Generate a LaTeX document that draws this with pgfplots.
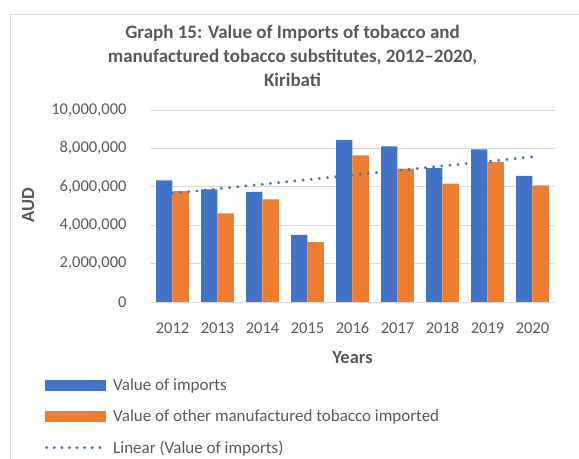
\documentclass[border=0pt]{standalone}
\usepackage{fontspec}
\setmainfont{Carlito}
\usepackage{pgfplots}
\pgfplotsset{compat=1.18}

\definecolor{xlblue}{RGB}{68,114,196}
\definecolor{xlorange}{RGB}{237,125,49}
\definecolor{xlgrid}{RGB}{217,217,217}
\definecolor{xltext}{RGB}{89,89,89}

\begin{document}
\begin{tikzpicture}
\useasboundingbox (0,0) rectangle (579bp,459bp);
% chart frame, cropped at right and bottom
\draw[xlgrid, line width=1bp] (10bp,0) -- (10bp,444bp) -- (579bp,444bp);

\begin{axis}[
    at={(150bp,157bp)}, anchor=south west,
    scale only axis,
    width=405bp, height=192bp,
    xmin=-0.5, xmax=8.5,
    ymin=0, ymax=10000000,
    ytick={0,2000000,4000000,6000000,8000000,10000000},
    xtick={0,...,8},
    xticklabels={2012,2013,2014,2015,2016,2017,2018,2019,2020},
    scaled y ticks=false,
    /pgf/number format/.cd, fixed, 1000 sep={,}, assume math mode=true,
    /pgfplots/.cd,
    axis line style={draw=none},
    major tick length=0pt,
    ymajorgrids,
    grid style={xlgrid, line width=0.9bp},
    tick label style={font=\fontsize{16.5bp}{19bp}\selectfont, text=xltext},
    yticklabel style={xshift=-20bp},
    xticklabel style={anchor=base, yshift=-31bp},
    xlabel={Years},
    ylabel={AUD},
    label style={font=\fontsize{18.5bp}{22bp}\selectfont\bfseries, text=xltext},
    xlabel style={at={(axis description cs:0.5,-0.29)}, anchor=center},
    ylabel style={at={(axis description cs:-0.301,0.505)}, anchor=center},
    title={Graph 15: Value of Imports of tobacco and\\manufactured tobacco substitutes, 2012--2020,\\Kiribati},
    title style={at={(axis description cs:0.352,1.25)}, anchor=center, align=center,
        font=\fontsize{19bp}{24bp}\selectfont\bfseries, text=xltext},
    legend style={at={(axis description cs:-0.267,-0.38)}, anchor=north west,
        draw=none, fill=none, font=\fontsize{17bp}{20bp}\selectfont, text=xltext,
        row sep=13.5bp,
        /tikz/every odd column/.append style={column sep=3.5bp}},
    legend cell align=left,
]
\addplot[ybar, bar width=16.3bp, bar shift=-8.15bp, fill=xlblue, draw=none,
    legend image code/.code={\fill[xlblue] (0bp,-5.5bp) rectangle (61bp,5.5bp);}]
coordinates {
(0,6340000) (1,5860000) (2,5740000) (3,3500000) (4,8440000)
(5,8110000) (6,6970000) (7,7950000) (8,6570000)
};
\addlegendentry{Value of imports}

\addplot[ybar, bar width=16.3bp, bar shift=8.15bp, fill=xlorange, draw=none,
    legend image code/.code={\fill[xlorange] (0bp,-5.5bp) rectangle (61bp,5.5bp);}]
coordinates {
(0,5770000) (1,4610000) (2,5340000) (3,3120000) (4,7640000)
(5,6950000) (6,6170000) (7,7300000) (8,6080000)
};
\addlegendentry{Value of other manufactured tobacco imported}

\addplot[sharp plot, xlblue, line width=3.2bp, line cap=round,
    dash pattern=on 0pt off 8.2bp,
    legend image code/.code={\draw[xlblue, line width=3.2bp, line cap=round,
        dash pattern=on 0pt off 7.6bp] (1.5bp,0) -- (61bp,0);}]
coordinates {
(0,5658000) (8,7560000)
};
\addlegendentry{Linear (Value of imports)}
\end{axis}
\end{tikzpicture}
\end{document}
